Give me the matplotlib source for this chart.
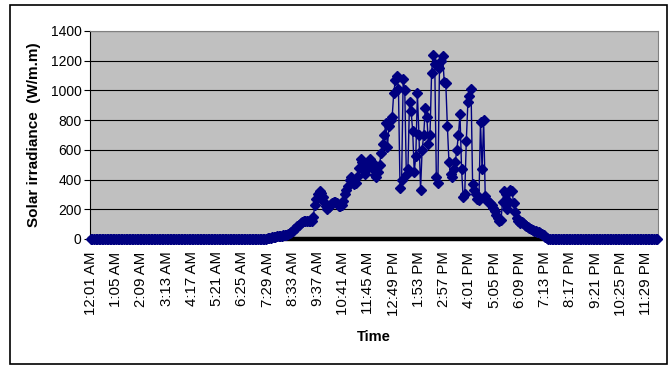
import numpy as np
import matplotlib
matplotlib.use("Agg")
import matplotlib.pyplot as plt
from matplotlib.patches import Rectangle

plt.rcParams["font.family"] = ["Liberation Sans", "DejaVu Sans"]

# Solar irradiance sampled every 4 minutes, starting 12:01 AM
step_minutes = 4
night_before = [0] * 110          # 12:01 AM .. 7:17 AM
morning_ramp = [0, 0, 5, 8, 10, 12, 14, 15, 17, 18, 20, 22, 25, 28, 30,
                35, 40, 48, 55, 65, 75, 85, 95, 105, 115, 118, 120, 120, 120, 120,
                122, 150, 230, 270, 300, 320, 310, 280, 250, 220, 205, 215, 235, 245, 250]
late_morning = [250, 240, 225, 220, 230, 255, 300, 330, 360, 400, 420, 400, 370, 380, 420,
                480, 540, 520, 460, 440, 470, 510, 540, 520, 470, 430, 420, 450, 500, 580,
                640, 700]
midday = [780, 620, 760, 800, 820, 980, 1070, 1100, 1010, 340, 400, 1080, 1000, 430, 470,
          920, 860, 730, 450, 560, 980, 700, 330, 600, 700, 880, 820, 640, 700, 1120,
          1240, 1180, 420, 380, 1150, 1200, 1230, 1060]
afternoon = [1050, 760, 520, 440, 420, 470, 520, 600, 700, 840, 470, 280, 300, 660, 920,
             960, 1010, 370, 330, 300, 270, 260, 790, 470, 800, 290, 260, 250, 240, 230,
             210, 190, 160, 140, 120]
evening = [130, 250, 320, 300, 200, 250, 330, 320, 240, 180, 140, 120, 110, 115, 110,
           95, 85, 80, 75, 70, 60, 55, 55, 50, 45, 40, 35, 25, 15, 5, 0]
night_after = [0] * 69            # 7:25 PM .. 11:57 PM

irradiance = np.array(night_before + morning_ramp + late_morning + midday
                      + afternoon + evening + night_after, dtype=float)
minutes = np.arange(len(irradiance)) * step_minutes

tick_labels = ["12:01 AM", "1:05 AM", "2:09 AM", "3:13 AM", "4:17 AM", "5:21 AM",
               "6:25 AM", "7:29 AM", "8:33 AM", "9:37 AM", "10:41 AM", "11:45 AM",
               "12:49 PM", "1:53 PM", "2:57 PM", "4:01 PM", "5:05 PM", "6:09 PM",
               "7:13 PM", "8:17 PM", "9:21 PM", "10:25 PM", "11:29 PM"]
tick_minutes = np.arange(len(tick_labels)) * 64

W, H = 670, 366
fig = plt.figure(figsize=(W / 100, H / 100), dpi=100)
ax = fig.add_axes([90 / W, 1 - 239 / H, (658 - 90) / W, (239 - 31) / H])
ax.set_facecolor("#C0C0C0")

ax.plot(minutes, irradiance, color="#000080", lw=1.0, marker="D", ms=4.6,
        mec="#000080", mfc="#000080", clip_on=False, zorder=4)

ax.set_xlim(-2, 1438)
ax.set_ylim(0, 1400)
ax.set_yticks(np.arange(0, 1401, 200))
ax.set_xticks(tick_minutes)
ax.set_xticklabels(tick_labels, rotation=90, fontsize=10.8)
ax.tick_params(axis="x", length=0, pad=9)
ax.tick_params(axis="y", length=4, width=0.8, labelsize=10, pad=2, direction="out")

ax.yaxis.grid(True, color="black", lw=0.8)
ax.set_axisbelow(True)

for side in ("top", "right"):
    ax.spines[side].set_color("#808080")
    ax.spines[side].set_linewidth(0.8)
ax.spines["left"].set_color("black")
ax.spines["left"].set_linewidth(0.8)
ax.spines["bottom"].set_color("black")
ax.spines["bottom"].set_linewidth(3.2)
ax.spines["bottom"].set_zorder(3)

ax.set_ylabel("Solar irradiance  (W/m.m)", fontsize=11, fontweight="bold", labelpad=7)
ax.set_xlabel("Time", fontsize=10.5, fontweight="bold", labelpad=10)

fig.add_artist(Rectangle((10 / W, 1 - 364 / H), (667 - 10) / W, (364 - 5) / H,
                         transform=fig.transFigure, fill=False,
                         edgecolor="black", lw=1.2))

fig.savefig("out.png", dpi=100)
